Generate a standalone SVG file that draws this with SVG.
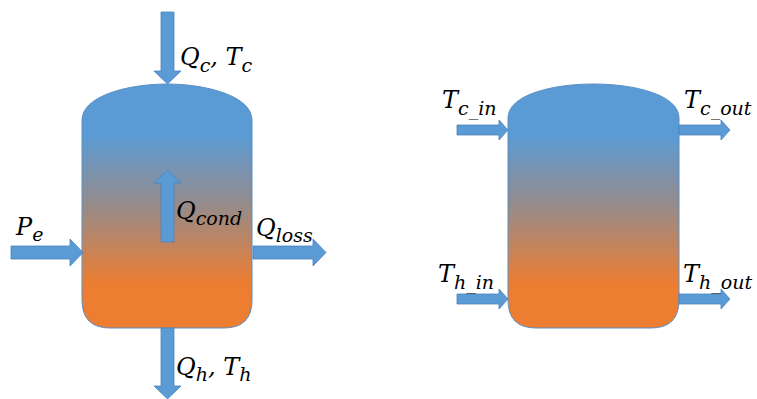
<svg xmlns="http://www.w3.org/2000/svg" width="757" height="399" viewBox="0 0 757 399">
<defs>
<linearGradient id="tankGrad" x1="0" y1="0" x2="0" y2="1">
<stop offset="0" stop-color="#5B9BD5"/>
<stop offset="0.21" stop-color="#5B9BD5"/>
<stop offset="0.5" stop-color="#978B89"/>
<stop offset="0.82" stop-color="#ED7D31"/>
<stop offset="1" stop-color="#ED7D31"/>
</linearGradient>
<style>
.tank{fill:url(#tankGrad);stroke:#5B8FC4;stroke-width:1}
.arr{fill:#5B9BD5;stroke:#4A84BC;stroke-width:0.8}
.lbl{font-family:"DejaVu Serif","Liberation Serif",serif;font-style:italic;font-size:24px;fill:#000}
.sub{font-size:19px}
</style>
</defs>
<g id="tank1">
<path class="tank" d="M82,120 C82,96 128,84 167,84 C206,84 252,96 252,120 L252,300 Q252,328 224,328 L110,328 Q82,328 82,300 Z"/>
</g>
<g id="tank2">
<path class="tank" d="M508,118 C508,95 552,84 593.5,84 C635,84 679,95 679,118 L679,300 Q679,328 651,328 L536,328 Q508,328 508,300 Z"/>
</g>
<g id="connectors">
<path id="arrow-qc" class="arr" d="M161,12 L174,12 L174,71 L181,71 L167.5,84 L154,71 L161,71 Z"/>
<path id="arrow-qcond" class="arr" d="M161,242 L174,242 L174,183 L181,183 L167.5,170 L154,183 L161,183 Z"/>
<path id="arrow-pe" class="arr" d="M11,246 L70,246 L70,239 L83,252.5 L70,266 L70,259 L11,259 Z"/>
<path id="arrow-qloss" class="arr" d="M253,246 L313,246 L313,239 L326,252.5 L313,266 L313,259 L253,259 Z"/>
<path id="arrow-qh" class="arr" d="M161,328 L174,328 L174,386 L181,386 L167.5,399 L154,386 L161,386 Z"/>
<path id="arrow-tcin" class="arr" d="M457,125 L499,125 L499,120 L508,130 L499,140 L499,135 L457,135 Z"/>
<path id="arrow-thin" class="arr" d="M457,294 L499,294 L499,289 L508,299 L499,309 L499,304 L457,304 Z"/>
<path id="arrow-tcout" class="arr" d="M679,125 L721,125 L721,120 L730,130 L721,140 L721,135 L679,135 Z"/>
<path id="arrow-thout" class="arr" d="M679,294 L721,294 L721,289 L730,299 L721,309 L721,304 L679,304 Z"/>
</g>
<g id="labels">
<text class="lbl" x="180" y="65">Q<tspan class="sub" dy="7">c</tspan><tspan dy="-7">, T</tspan><tspan class="sub" dy="7">c</tspan></text>
<text class="lbl" x="176" y="219">Q<tspan class="sub" dy="6">cond</tspan></text>
<text class="lbl" x="16" y="235">P<tspan class="sub" dy="6">e</tspan></text>
<text class="lbl" x="256" y="236">Q<tspan class="sub" dy="6">loss</tspan></text>
<text class="lbl" x="176" y="375">Q<tspan class="sub" dy="6">h</tspan><tspan dy="-6">, T</tspan><tspan class="sub" dy="6">h</tspan></text>
<text class="lbl" x="442" y="108">T<tspan class="sub" dy="7">c_in</tspan></text>
<text class="lbl" x="438" y="282">T<tspan class="sub" dy="7">h_in</tspan></text>
<text class="lbl" x="684" y="108">T<tspan class="sub" dy="7">c_out</tspan></text>
<text class="lbl" x="683" y="282">T<tspan class="sub" dy="7">h_out</tspan></text>
</g>
</svg>
